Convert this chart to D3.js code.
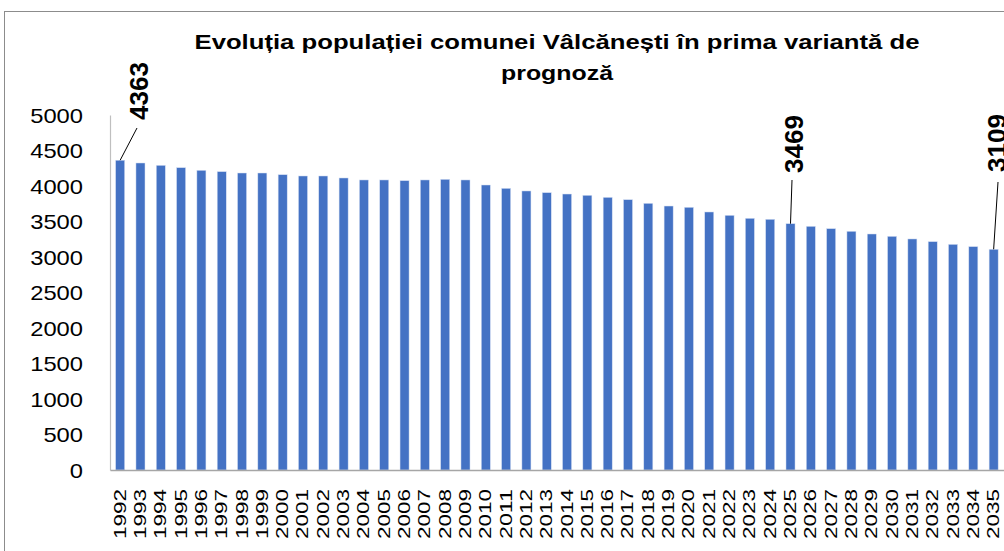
<!DOCTYPE html>
<html>
<head>
<meta charset="utf-8">
<script src="https://cdn.jsdelivr.net/npm/d3@7"></script>
<style>
  html, body { margin: 0; padding: 0; background: #fff; }
  svg { display: block; }
  text { font-family: "Liberation Sans", Arial, sans-serif; fill: #000; }
</style>
</head>
<body>
<svg id="chart" width="1004" height="551"></svg>
<script>
const years = [1992,1993,1994,1995,1996,1997,1998,1999,2000,2001,2002,2003,2004,2005,2006,2007,2008,2009,2010,2011,2012,2013,2014,2015,2016,2017,2018,2019,2020,2021,2022,2023,2024,2025,2026,2027,2028,2029,2030,2031,2032,2033,2034,2035];
const population = [4363,4324,4291,4258,4221,4202,4183,4183,4159,4141,4141,4113,4085,4085,4075,4085,4094,4085,4014,3967,3930,3906,3887,3869,3840,3807,3756,3718,3700,3634,3587,3545,3531,3469,3432,3399,3362,3324,3291,3254,3216,3178,3146,3109];
const yTicks = [0,500,1000,1500,2000,2500,3000,3500,4000,4500,5000];
const titleLines = ["Evoluția populației comunei Vâlcănești în prima variantă de", "prognoză"];
const labelledYears = [1992, 2025, 2035];

(function() {
const svg = d3.select("#chart");
const pLeft = 110, pRight = 1003.8, pTop = 115, pBottom = 470;

// outer border
svg.append("rect").attr("x", 4.5).attr("y", 11.5).attr("width", 1100).attr("height", 700)
  .attr("fill", "none").attr("stroke", "#8c8c8c").attr("stroke-width", 1);

const x = d3.scaleBand().domain(years).range([pLeft, pRight]).paddingInner(0.555).paddingOuter(0.2775);
const y = d3.scaleLinear().domain([0, 5000]).range([pBottom, pTop]);

// title
const tWidths = [725, 112];
svg.selectAll("text.title").data(titleLines).enter().append("text")
  .attr("class", "title")
  .attr("x", 557).attr("y", (d, i) => 49 + i * 31)
  .attr("text-anchor", "middle")
  .attr("font-size", 21).attr("font-weight", "bold")
  .attr("textLength", (d, i) => tWidths[i]).attr("lengthAdjust", "spacingAndGlyphs")
  .text(d => d);

// y axis
const yAxis = d3.axisLeft(y).tickValues(yTicks).tickSize(0).tickPadding(0).tickFormat(d3.format("d"));
const gy = svg.append("g").attr("transform", `translate(${pLeft},0)`).call(yAxis);
gy.select(".domain").attr("stroke", "#bfbfbf").attr("stroke-width", 1.2);
gy.selectAll("text")
  .attr("x", -27).attr("dy", "0.35em")
  .attr("font-size", 21).attr("font-family", "Liberation Sans, Arial, sans-serif")
  .attr("fill", "#000")
  .each(function(d) {
    const n = String(d).length;
    d3.select(this).attr("textLength", n * 13.2).attr("lengthAdjust", "spacingAndGlyphs");
  });

// bars
svg.append("g").selectAll("rect").data(years).enter().append("rect")
  .attr("x", d => x(d)).attr("width", x.bandwidth())
  .attr("y", (d, i) => y(population[i]))
  .attr("height", (d, i) => pBottom - y(population[i]))
  .attr("fill", "#4472c4").attr("stroke", "#d6e0f3").attr("stroke-width", 0.5);

// x axis
const xAxis = d3.axisBottom(x).tickSize(0).tickPadding(0);
const gx = svg.append("g").attr("transform", `translate(0,${pBottom})`).call(xAxis);
gx.select(".domain").attr("stroke", "#a6a6a6").attr("stroke-width", 1.5);
gx.selectAll("text")
  .attr("y", 0).attr("dy", 0)
  .attr("font-size", 17).attr("font-family", "Liberation Sans, Arial, sans-serif")
  .attr("fill", "#000")
  .attr("text-anchor", "end")
  .attr("dominant-baseline", "central")
  .attr("transform", "translate(0,19) rotate(-90)")
  .attr("textLength", 50).attr("lengthAdjust", "spacingAndGlyphs");

// data labels with leader lines
const labelPos = {
  1992: {lx: 137, ly: 128, tx: 139, ty: 120},
  2025: {lx: 792, ly: 180, tx: 794, ty: 173},
  2035: {lx: 998, ly: 182, tx: 997, ty: 172}
};
labelledYears.forEach(yr => {
  const i = years.indexOf(yr);
  const v = population[i];
  const p = labelPos[yr];
  const bx = x(yr) + x.bandwidth() / 2;
  svg.append("line")
    .attr("x1", bx).attr("y1", y(v)).attr("x2", p.lx).attr("y2", p.ly)
    .attr("stroke", "#000").attr("stroke-width", 1);
  svg.append("text")
    .attr("transform", `translate(${p.tx},${p.ty}) rotate(-90)`)
    .attr("text-anchor", "start").attr("dominant-baseline", "central")
    .attr("font-size", 26).attr("font-weight", "bold")
    .attr("textLength", 58).attr("lengthAdjust", "spacingAndGlyphs")
    .text(v);
});
})();
</script>
</body>
</html>
